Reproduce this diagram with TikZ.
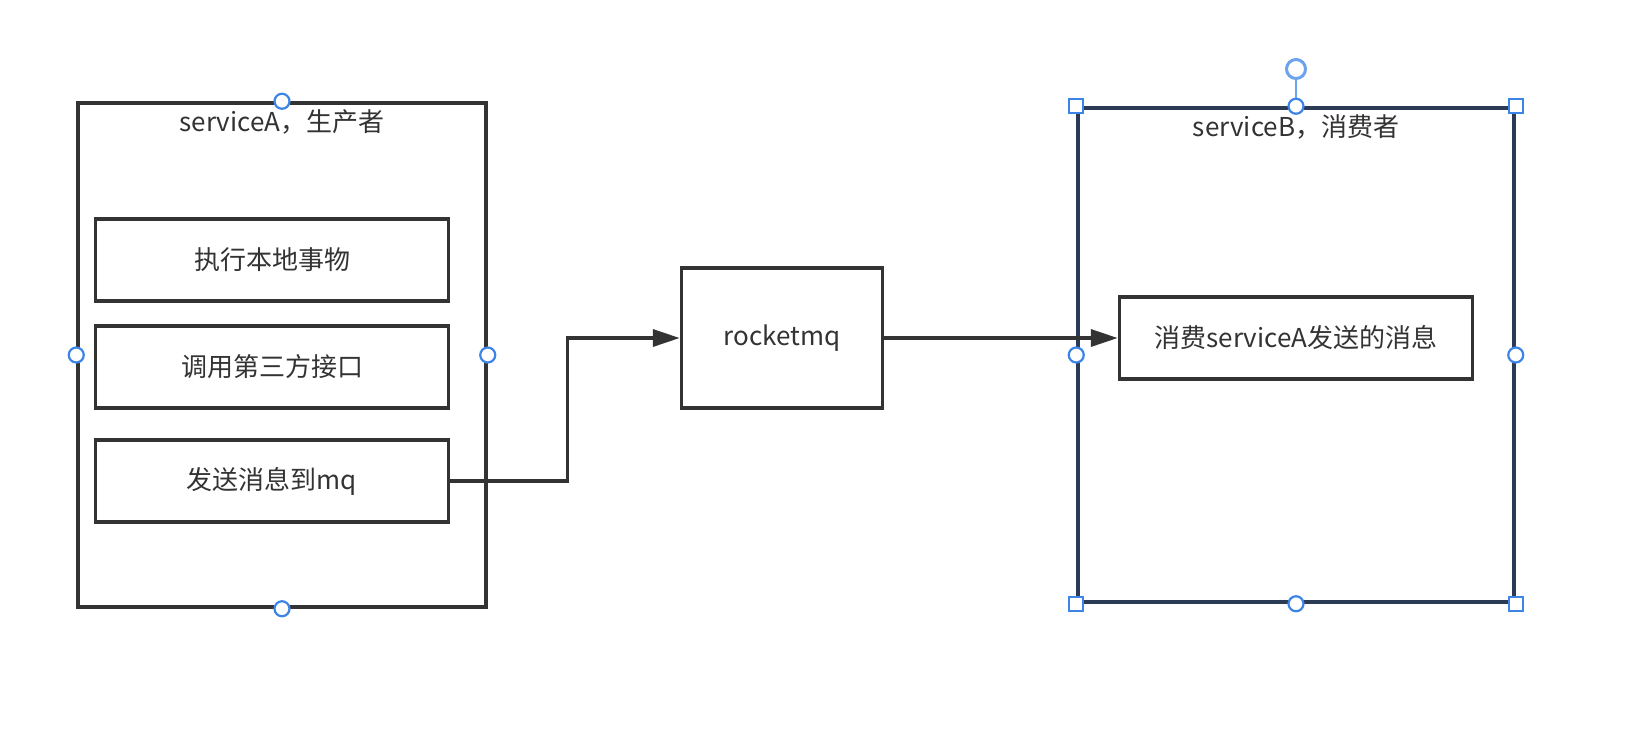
\documentclass[tikz,border=0pt]{standalone}
\usepackage{fontspec}
\setmainfont{Noto Sans CJK SC}
\usetikzlibrary{arrows.meta,positioning}
\definecolor{inkgray}{HTML}{333333}
\definecolor{selblue}{HTML}{3C84E6}
\definecolor{selnavy}{HTML}{2B3A55}
\tikzset{
  box/.style={draw=inkgray,line width=3.5pt,fill=white,inner sep=0pt,
              font=\fontsize{26}{31}\selectfont,text=inkgray},
  service/.style={box,fill=none},
  task/.style={box,minimum width=353pt,minimum height=82pt},
  title/.style={font=\fontsize{26}{31}\selectfont,text=inkgray},
  flow/.style={draw=inkgray,line width=3.5pt,-{Triangle[length=27pt,width=17pt]}},
  handle/.style={circle,draw=selblue,line width=2.2pt,fill=white,minimum size=15pt,inner sep=0pt},
  corner/.style={rectangle,draw=selblue,line width=2.2pt,fill=white,minimum size=14pt,inner sep=0pt},
  spin/.style={handle,draw=selblue!75,line width=3pt,minimum size=19pt},
}
\begin{document}
\begin{tikzpicture}[x=1pt,y=-1pt]
  \path[use as bounding box,fill=white] (0,0) rectangle (1632,732);

  % producer
  \node[service,minimum width=408pt,minimum height=504pt] (srvA) at (282,355) {};
  \node[title] (srvAt) at (282,122) {serviceA，生产者};
  \node[task] (local) at (272,260) {执行本地事物};
  \node[task] (third) at (272,367) {调用第三方接口};
  \node[task] (send) at (272,481) {发送消息到mq};

  % broker
  \node[box,minimum width=201pt,minimum height=140pt] (mq) at (782,338) {rocketmq};

  % consumer (selected)
  \node[service,draw=selnavy,minimum width=436pt,minimum height=494pt] (srvB) at (1296,355) {};
  \node[title] (srvBt) at (1296,127) {serviceB，消费者};
  \node[task] (consume) at (1296,338) {消费serviceA发送的消息};

  \draw[flow] (send.east) -- ++(117,0) |- (mq.west);
  \draw[flow] (mq.east) -- (consume.west);

  % selection handles
  \node[handle] (hAn) at (srvA.north) {};
  \node[handle] (hAs) at (srvA.south) {};
  \node[handle] (hAw) at (srvA.west) {};
  \node[handle] (hAe) at (srvA.east) {};
  \node[spin] (hBr) at (1296,69) {};
  \draw[selblue!75,line width=2.5pt] (hBr) -- (srvB.north);
  \node[handle] (hBn) at (srvB.north) {};
  \node[handle] (hBs) at (srvB.south) {};
  \node[handle] (hBw) at (srvB.west) {};
  \node[handle] (hBe) at (srvB.east) {};
  \node[corner] (hBnw) at (srvB.north west) {};
  \node[corner] (hBne) at (srvB.north east) {};
  \node[corner] (hBsw) at (srvB.south west) {};
  \node[corner] (hBse) at (srvB.south east) {};
\end{tikzpicture}
\end{document}
